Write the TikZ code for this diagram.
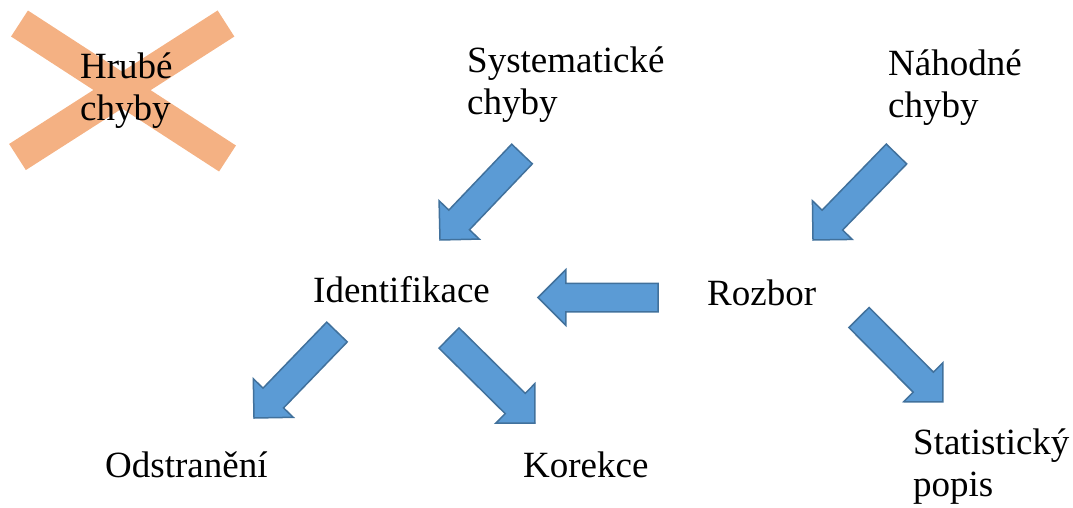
\documentclass[tikz,border=0pt]{standalone}
\usepackage{fontspec}
\setmainfont{Liberation Serif}
\usetikzlibrary{calc,shapes.arrows}

\definecolor{crossfill}{HTML}{F4B183}
\definecolor{arrowfill}{HTML}{5B9BD5}
\definecolor{arrowline}{HTML}{41719C}

\tikzset{
  label/.style={inner sep=0pt, anchor=base west, align=left,
    font=\fontsize{37}{42}\selectfont},
  crossbar/.style={draw=crossfill, line width=31pt, line cap=butt},
  blockarrow/.style={single arrow, draw=arrowline, fill=arrowfill,
    line width=1.5pt, line join=miter, inner xsep=0pt, inner ysep=13.5pt,
    outer sep=0pt, minimum width=54pt, single arrow head extend=13.5pt,
    single arrow tip angle=90, shape border uses incircle=false}
}

% block arrow #1 from coordinate #2 (tail) to coordinate #3 (tip)
\newcommand\blockarr[3]{%
  \path let \p1=(#2), \p2=(#3),
    \n1={atan2(\y2-\y1,\x2-\x1)}, \n2={veclen(\x2-\x1,\y2-\y1)} in
    node[blockarrow, minimum height=\n2, rotate=\n1, anchor=tail] (#1)
      at (\p1) {};}

\begin{document}
\begin{tikzpicture}[x=1pt, y=-1pt]
  \useasboundingbox (0,0) rectangle (1073,507);

  % crossed-out box
  \coordinate (xa1) at (19.5,23.5);
  \coordinate (xa2) at (227.5,158.5);
  \coordinate (xb1) at (226,23.5);
  \coordinate (xb2) at (17.5,157);
  \draw[crossbar] (xa1) -- (xa2);
  \draw[crossbar] (xb1) -- (xb2);

  % labels (two-line labels are placed by the baseline of their last line)
  \node[label] (hrube)  at (80,120)  {Hrubé\\chyby};
  \node[label] (syst)   at (467,114) {Systematické\\chyby};
  \node[label] (nahod)  at (888,117) {Náhodné\\chyby};
  \node[label] (ident)  at (313,302) {Identifikace};
  \node[label] (rozbor) at (707,305) {Rozbor};
  \node[label] (odstr)  at (105,477) {Odstranění};
  \node[label] (korek)  at (523,477) {Korekce};
  \node[label] (stat)   at (913,496) {Statistický\\popis};

  % arrow end points
  \coordinate (a1s) at (522,154);   \coordinate (a1e) at (440,240);
  \coordinate (a2s) at (896.5,154); \coordinate (a2e) at (813,240);
  \coordinate (a3s) at (658,297.5); \coordinate (a3e) at (538,297.5);
  \coordinate (a4s) at (337,332);   \coordinate (a4e) at (254,418);
  \coordinate (a5s) at (449,338);   \coordinate (a5e) at (535,423);
  \coordinate (a6s) at (859,317.5); \coordinate (a6e) at (943,402);

  \blockarr{syst2ident}{a1s}{a1e}
  \blockarr{nahod2rozbor}{a2s}{a2e}
  \blockarr{rozbor2ident}{a3s}{a3e}
  \blockarr{ident2odstr}{a4s}{a4e}
  \blockarr{ident2korek}{a5s}{a5e}
  \blockarr{rozbor2stat}{a6s}{a6e}
\end{tikzpicture}
\end{document}
